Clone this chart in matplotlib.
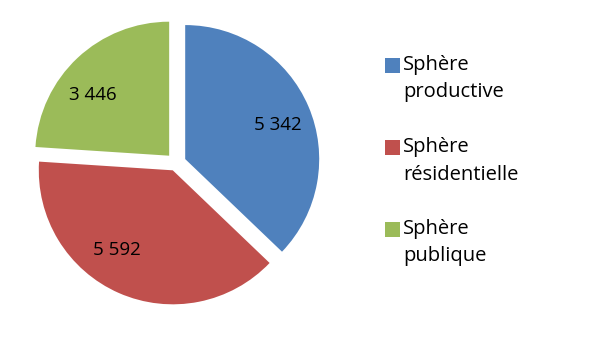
#Pie chart - emplois par sphère

#Importing the libraries
import numpy as np
import matplotlib
matplotlib.use('Agg')
import matplotlib.pyplot as plt
from matplotlib.patches import Rectangle

#Data
categories = ['Sphère\nproductive', 'Sphère\nrésidentielle', 'Sphère\npublique']
values = [5342, 5592, 3446]
value_labels = ['5 342', '5 592', '3 446']
colors = ['#4F81BD', '#C0504D', '#9BBB59']

plt.rcParams['font.family'] = ['Open Sans', 'DejaVu Sans']

fig = plt.figure(figsize=(6, 3.39), dpi=100)
ax = fig.add_axes([0, 0, 1, 1])

#Pie (center and radius in pixel units)
wedges, texts = ax.pie(values, colors=colors, startangle=90, counterclock=False,
                       center=(176, 176), radius=134, explode=[10, 8, 10],
                       frame=True)
ax.set_xlim(0, 600)
ax.set_ylim(0, 339)
ax.set_aspect('equal')
ax.axis('off')

# value labels, placed like Excel does
label_pos = [(278, 214), (117, 89), (93, 244)]
for lab, (x, y) in zip(value_labels, label_pos):
    ax.text(x, y, lab, ha='center', va='center', fontsize=13.5, color='black')

#Legend drawn by hand so the square sits on the first line
for i, (cat, col) in enumerate(zip(categories, colors)):
    top = 339 - 57 - i * 82
    ax.add_patch(Rectangle((385, top - 16), 15, 15, facecolor=col, edgecolor='none'))
    ax.text(403, top + 2, cat, ha='left', va='top', fontsize=14.5, color='black',
            linespacing=1.5)

plt.savefig('out.png', dpi=100)
